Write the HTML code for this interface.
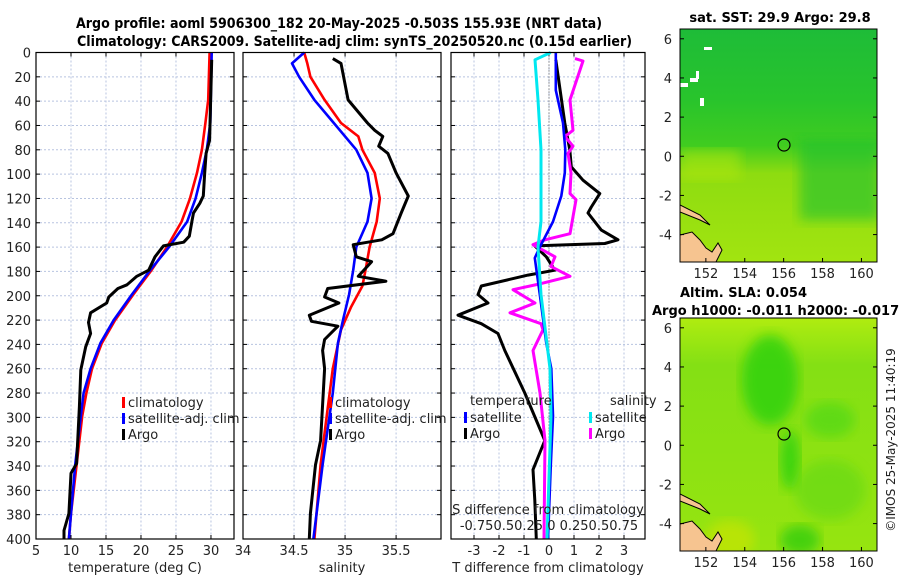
<!DOCTYPE html>
<html><head><meta charset="utf-8"><style>
body{margin:0;background:#fff;}
svg{display:block;font-family:"DejaVu Sans","Liberation Sans",sans-serif;}
.t{font-size:13px;fill:#222;}
.b{font-weight:bold;font-size:13px;fill:#000;}
</style></head><body>
<svg id="fig" width="900" height="580" viewBox="0 0 900 580" xmlns="http://www.w3.org/2000/svg">
<defs>
<linearGradient id="sstg" x1="0" y1="0" x2="0" y2="1">
<stop offset="0" stop-color="#1ebc38"/><stop offset="0.3" stop-color="#28c42c"/>
<stop offset="0.5" stop-color="#40cc20"/><stop offset="0.62" stop-color="#8edc10"/>
<stop offset="1" stop-color="#a2e410"/></linearGradient>
<linearGradient id="slag" x1="0" y1="0" x2="0" y2="1">
<stop offset="0" stop-color="#b0ec10"/><stop offset="0.2" stop-color="#84e014"/>
<stop offset="1" stop-color="#96e410"/></linearGradient>
<filter id="bl"><feGaussianBlur stdDeviation="6"/></filter>
<clipPath id="c1"><rect x="680" y="29" width="197" height="233"/></clipPath>
<clipPath id="c2"><rect x="680" y="318" width="197" height="233"/></clipPath>
</defs>
<text class="b" x="76" y="28" style="font-size:14px" textLength="526" lengthAdjust="spacingAndGlyphs">Argo profile: aoml 5906300_182 20-May-2025 -0.503S 155.93E (NRT data)</text>
<text class="b" x="77" y="46" style="font-size:14px" textLength="555" lengthAdjust="spacingAndGlyphs">Climatology: CARS2009. Satellite-adj clim: synTS_20250520.nc (0.15d earlier)</text>
<g id="panels"></g>
<g>
<g clip-path="url(#c1)">
<rect x="680" y="29" width="197" height="233" fill="url(#sstg)"/>
<rect x="800" y="140" width="80" height="80" fill="#1ec030" opacity="0.6" filter="url(#bl)"/>
<rect x="680" y="150" width="60" height="30" fill="#b4e810" opacity="0.5" filter="url(#bl)"/>
<rect x="704" y="47" width="8" height="3" fill="#fff"/><rect x="690" y="78" width="8" height="4" fill="#fff"/>
<rect x="696" y="71" width="3" height="8" fill="#fff"/><rect x="680" y="83" width="8" height="4" fill="#fff"/>
<rect x="700" y="98" width="4" height="8" fill="#fff"/>
<path d="M680 235 L692 232 L700 240 L706 248 L712 252 L718 243 L722 250 L716 262 L680 262 Z" fill="#f6c490" stroke="#000" stroke-width="1"/>
<path d="M680 205 L700 215 L710 225 L700 220 L680 212 Z" fill="#f6c490" stroke="#000" stroke-width="1"/>
</g>
<rect x="680" y="29" width="197" height="233" fill="none" stroke="#000"/>
<circle cx="784" cy="145" r="6" fill="none" stroke="#000" stroke-width="1.2"/>
</g>
<g>
<g clip-path="url(#c2)">
<rect x="680" y="318" width="197" height="233" fill="url(#slag)"/>
<ellipse cx="770" cy="380" rx="28" ry="45" fill="#2cd010" opacity="0.8" filter="url(#bl)"/>
<ellipse cx="790" cy="460" rx="10" ry="30" fill="#2cd010" opacity="0.8" filter="url(#bl)"/>
<ellipse cx="830" cy="420" rx="25" ry="18" fill="#50d812" opacity="0.7" filter="url(#bl)"/>
<ellipse cx="800" cy="540" rx="20" ry="15" fill="#30cc10" opacity="0.8" filter="url(#bl)"/>
<ellipse cx="830" cy="490" rx="35" ry="30" fill="#60d814" opacity="0.6" filter="url(#bl)"/>
<ellipse cx="730" cy="540" rx="25" ry="20" fill="#d0e400" opacity="0.6" filter="url(#bl)"/>
<path d="M680 524 L692 521 L700 529 L706 537 L712 541 L718 532 L722 539 L716 551 L680 551 Z" fill="#f6c490" stroke="#000" stroke-width="1"/>
<path d="M680 494 L700 504 L710 514 L700 509 L680 501 Z" fill="#f6c490" stroke="#000" stroke-width="1"/>
</g>
<rect x="680" y="318" width="197" height="233" fill="none" stroke="#000"/>
<circle cx="784" cy="434" r="6" fill="none" stroke="#000" stroke-width="1.2"/>
</g>
<text class="b" x="780" y="22" text-anchor="middle">sat. SST: 29.9 Argo: 29.8</text>
<text class="b" x="680" y="297">Altim. SLA: 0.054</text>
<text class="b" x="652" y="315">Argo h1000: -0.011 h2000: -0.017</text>
<text class="t" transform="translate(895,440) rotate(-90)" text-anchor="middle" style="font-size:12px">©IMOS 25-May-2025 11:40:19</text>
</svg>
<script>
const depthTicks=[0,20,40,60,80,100,120,140,160,180,200,220,240,260,280,300,320,340,360,380,400];
const tempTicks=[5,10,15,20,25,30];
const salTicks=[34,34.5,35,35.5];
const tdiffTicks=[-3,-2,-1,0,1,2,3];
const sdiffLabels=["-0.75","0.5","0.25","0","0.25","0.5","0.75"];
const latTicks=[6,4,2,0,-2,-4];
const lonTicks=[152,154,156,158,160];

const tClimD=[0,39,58,80,99,120,139,160,179,199,220,239,260,280,299,339,379,400];
const tClim=[29.8,29.6,29.2,28.7,28.0,27.0,25.8,23.7,21.5,18.9,16.3,14.4,13.0,12.2,11.6,10.8,10.0,9.7];
const tSatD=[0,58,80,99,120,139,160,179,199,220,239,260,280,299,339,379,400];
const tSat=[30.1,29.9,29.4,28.7,27.8,26.6,24.0,21.3,18.7,16.1,14.2,12.8,11.8,11.4,10.6,10.0,9.7];
const tArgoD=[6,72,83,99,118,124,132,138,151,156,159,168,179,184,191,194,201,206,214,222,231,242,261,291,338,346,379,393,400];
const tArgo=[30.1,29.8,29.3,29.1,28.9,28.4,27.5,27.3,26.9,26.1,23.2,22.0,21.1,19.4,18.0,16.7,15.4,15.1,12.8,12.5,12.8,12.1,11.4,11.2,10.8,10.0,9.7,9.0,9.0];

const sClimD=[0,9,20,39,58,69,80,99,120,139,160,179,192,209,228,260,299,339,400];
const sClim=[34.60,34.63,34.66,34.80,34.96,35.13,35.17,35.29,35.34,35.31,35.24,35.20,35.17,35.06,34.96,34.88,34.82,34.76,34.70];
const sSatD=[0,9,20,39,58,80,99,120,139,160,179,199,220,239,280,339,400];
const sSat=[34.60,34.48,34.55,34.70,34.89,35.11,35.22,35.26,35.22,35.11,35.08,35.04,34.98,34.93,34.88,34.78,34.69];
const sArgoD=[5,9,39,58,64,69,77,83,99,118,132,149,154,158,168,172,184,188,194,201,206,216,221,225,236,245,260,319,339,379,400];
const sArgo=[34.88,34.96,35.03,35.22,35.29,35.37,35.33,35.42,35.50,35.62,35.55,35.47,35.36,35.08,35.11,35.26,35.13,35.40,34.83,34.80,34.94,34.65,34.67,34.93,34.80,34.78,34.80,34.76,34.71,34.66,34.65];

const dtSatD=[0,31,58,80,99,118,139,160,169,199,239,260,299,339,400];
const dtSat=[0.27,0.27,0.56,0.65,0.63,0.49,0.16,-0.37,-0.57,-0.37,-0.11,0.09,0.16,0.07,-0.04];
const dtArgoD=[6,58,80,94,105,116,127,132,146,154,157,159,168,179,183,192,199,206,216,223,231,245,280,319,343,368,400];
const dtArgo=[0.27,0.63,0.83,0.89,1.36,2.03,1.69,1.56,2.09,2.76,2.23,-0.57,-0.11,0.23,-0.84,-2.71,-2.84,-2.44,-3.64,-2.71,-2.04,-1.77,-0.97,-0.17,-0.64,-0.57,-0.51];
const dsSatD=[0,6,39,80,139,160,199,260,299,400];
const dsSat=[0.017,-0.14,-0.11,-0.08,-0.08,-0.11,-0.08,0.01,0.02,-0.02];
const dsArgoD=[5,7,39,64,69,77,83,99,116,121,149,154,158,168,176,184,190,195,206,214,223,228,245,280,319,400];
const dsArgo=[0.26,0.34,0.21,0.24,0.16,0.24,0.19,0.22,0.21,0.27,0.21,-0.04,-0.16,0.06,0.02,0.21,-0.08,-0.36,-0.14,-0.39,-0.08,-0.06,-0.16,-0.09,-0.04,-0.05];

const NS="http://www.w3.org/2000/svg";
const G=document.getElementById('panels');
const Y0=52.5,Y1=539;
const yS=d=>Y0+(d/400)*(Y1-Y0);
function mk(tag,attrs,parent){const e=document.createElementNS(NS,tag);for(const k in attrs)e.setAttribute(k,attrs[k]);(parent||G).appendChild(e);return e;}
function txt(x,y,s,anchor,cls,parent){const e=mk('text',{x:x,y:y,'text-anchor':anchor||'middle',class:cls||'t'},parent);e.textContent=s;return e;}

const panels=[
 {x0:36,x1:234,dom:[5,33.29],ticks:tempTicks,name:'temperature',title:'temperature (deg C)'},
 {x0:243,x1:441,dom:[34,35.94],ticks:salTicks,name:'salinity',title:'salinity'},
 {x0:451,x1:645,dom:[-3.92,3.84],ticks:tdiffTicks,name:'difference',title:'T difference from climatology'}
];
panels.forEach(function(p,i){
 const xS=v=>p.x0+(v-p.dom[0])/(p.dom[1]-p.dom[0])*(p.x1-p.x0);
 p.xS=xS;
 const g=mk('g',{});
 
 
 const ga=mk('g',{},g);
 
 
 depthTicks.forEach(function(d){
  if(d>0&&d<400) mk('line',{x1:p.x0,x2:p.x1,y1:yS(d),y2:yS(d),stroke:'#b8c4e0','stroke-width':1,'stroke-dasharray':'2,2'},ga);
  mk('line',{x1:p.x0,x2:p.x0+4,y1:yS(d),y2:yS(d),stroke:'#000'},ga);
  mk('line',{x1:p.x1,x2:p.x1-4,y1:yS(d),y2:yS(d),stroke:'#000'},ga);
 });
 p.ticks.forEach(function(v){
  const x=xS(v);
  if(x>p.x0+1&&x<p.x1-1) mk('line',{x1:x,x2:x,y1:Y0,y2:Y1,stroke:'#b8c4e0','stroke-width':1,'stroke-dasharray':'2,2'},ga);
  mk('line',{x1:x,x2:x,y1:Y1,y2:Y1-4,stroke:'#000'},ga);
  mk('line',{x1:x,x2:x,y1:Y0,y2:Y0+4,stroke:'#000'},ga);
  const tl=txt(x,555,String(v),'middle','t',g);
  
  
 });
 if(i==0){
  depthTicks.forEach(function(d){
   const l=txt(31,yS(d)+5,String(d),'end','t',g);
   
   
  });
 }
 const ti=txt((p.x0+p.x1)/2,572,p.title,'middle','t',g);
 
 
 p.g=g;
});
function line(p,ds,vs,col,name,w,scale){
 const pts=ds.map((d,k)=>p.xS(vs[k]*(scale||1)).toFixed(1)+','+yS(d).toFixed(1)).join(' ');
 const e=mk('polyline',{points:pts,fill:'none',stroke:col,'stroke-width':w||2.6,'stroke-linejoin':'round'},p.g);
 
 
}
const P1=panels[0],P2=panels[1],P3=panels[2];
const zl=mk('line',{x1:P3.xS(0),x2:P3.xS(0),y1:Y0,y2:Y1,stroke:'#555','stroke-dasharray':'1,2'},P3.g);


line(P1,tClimD,tClim,'#ff0000','temp-climatology-line');
line(P1,tSatD,tSat,'#0000ff','temp-satellite-line');
line(P1,tArgoD,tArgo,'#000','temp-argo-line',3);
line(P2,sClimD,sClim,'#ff0000','sal-climatology-line');
line(P2,sSatD,sSat,'#0000ff','sal-satellite-line');
line(P2,sArgoD,sArgo,'#000','sal-argo-line',3);
line(P3,dtArgoD,dtArgo,'#000','tdiff-argo-line',3);
line(P3,dsArgoD,dsArgo,'#ff00ff','sdiff-argo-line',3,4);
line(P3,dtSatD,dtSat,'#0000ff','tdiff-satellite-line');
line(P3,dsSatD,dsSat,'#00e8f0','sdiff-satellite-line',3,4);
const sl=txt(548,514,'S difference from climatology','middle','t',P3.g);


const sv=txt(549,530,sdiffLabels.slice(0,3).join('')+' '+sdiffLabels[3]+' '+sdiffLabels.slice(4).join(''),'middle','t',P3.g);


panels.forEach(function(p){
 const r=mk('rect',{x:p.x0,y:Y0,width:p.x1-p.x0,height:Y1-Y0,fill:'none',stroke:'#000','stroke-width':1.2},p.g);
 
 
});
function legend(p,x,y,items){
 items.forEach(function(it,k){
  const yy=y+k*16;
  const b=mk('rect',{x:x,y:yy-10,width:3,height:11,fill:it[1]},p.g);
  
  
  const t=txt(x+6,yy,it[0],'start','t',p.g);
  
  
 });
}
legend(P1,122,407,[['climatology','#ff0000'],['satellite-adj. clim','#0000ff'],['Argo','#000']]);
legend(P2,329,407,[['climatology','#ff0000'],['satellite-adj. clim','#0000ff'],['Argo','#000']]);
const lt=txt(470,405,'temperature','start','t',P3.g);


const ls=txt(610,405,'salinity','start','t',P3.g);


legend(P3,464,422,[['satellite','#0000ff'],['Argo','#000']]);
legend(P3,589,422,[['satellite','#00e8f0'],['Argo','#ff00ff']]);
const SVG=document.getElementById('fig');
function mapAxes(top,bot,name){
 const lat2y=l=>top+(6.5-l)/(6.5+5.4)*(bot-top);
 const lon2x=l=>680+(l-150.67)/(160.8-150.67)*197;
 latTicks.forEach(function(l){
  const y=lat2y(l);
  mk('line',{x1:680,x2:684,y1:y,y2:y,stroke:'#000'},SVG);
  mk('line',{x1:877,x2:873,y1:y,y2:y,stroke:'#000'},SVG);
  const t=txt(672,y+5,String(l),'end','t',SVG);
  
  
 });
 lonTicks.forEach(function(l){
  const x=lon2x(l);
  mk('line',{x1:x,x2:x,y1:bot,y2:bot-4,stroke:'#000'},SVG);
  const t=txt(x,bot+16,String(l),'middle','t',SVG);
  
  
 });
}
mapAxes(29,262,'sst-map');
mapAxes(318,551,'sla-map');
</script>
</body></html>
